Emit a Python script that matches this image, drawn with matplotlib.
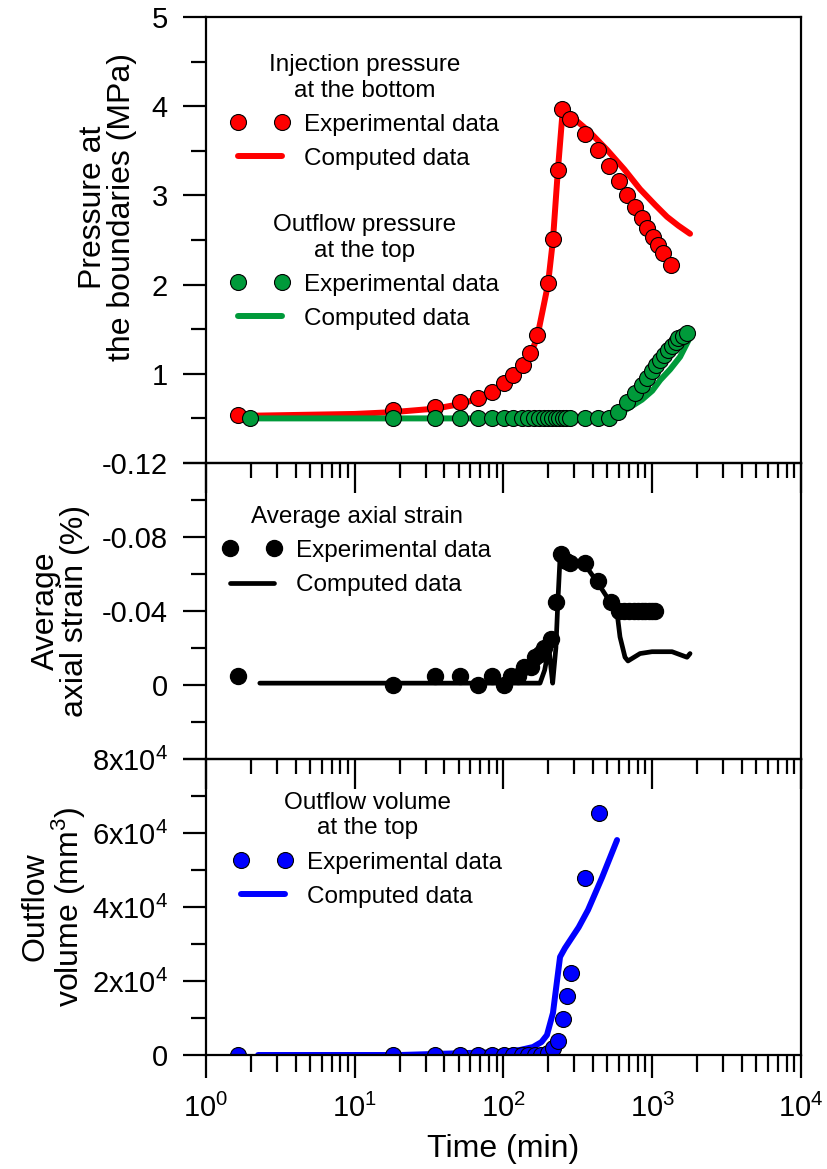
import matplotlib
matplotlib.use("Agg")
import matplotlib.pyplot as plt
import numpy as np
from matplotlib.ticker import LogLocator, FixedLocator, FuncFormatter, NullFormatter

plt.rcParams['font.family'] = ['Liberation Sans', 'DejaVu Sans']
plt.rcParams['mathtext.fontset'] = 'custom'
plt.rcParams['mathtext.rm'] = 'Liberation Sans'
plt.rcParams['mathtext.it'] = 'Liberation Sans:italic'
plt.rcParams['mathtext.default'] = 'regular'

# --- injection pressure at the bottom (MPa)
t_inj_exp = [1.64, 18.1, 34.6, 51, 67, 84, 101, 116, 135, 151, 168, 199, 215, 232, 247,
             280, 353, 432, 512, 598, 676, 765, 853, 922, 1012, 1093, 1181, 1337]
p_inj_exp = [0.54, 0.59, 0.63, 0.68, 0.73, 0.80, 0.90, 0.99, 1.10, 1.23, 1.43, 2.02, 2.51, 3.28, 3.97,
             3.86, 3.69, 3.51, 3.33, 3.16, 3.00, 2.87, 2.75, 2.63, 2.53, 2.44, 2.35, 2.22]
t_inj_cmp = [2.0, 10, 18, 35, 51, 67, 84, 101, 116, 135, 151, 168, 199, 215, 232, 250,
             289, 380, 497, 650, 828, 1050, 1257, 1500, 1795]
p_inj_cmp = [0.53, 0.55, 0.57, 0.61, 0.66, 0.72, 0.79, 0.88, 0.97, 1.08, 1.21, 1.40, 2.00, 2.50, 3.28, 3.95,
             3.88, 3.71, 3.51, 3.29, 3.07, 2.89, 2.76, 2.66, 2.57]

# --- outflow pressure at the top (MPa)
t_out_exp = [1.98, 18.1, 34.6, 51, 67, 84, 101, 116, 133, 146, 160, 173, 187, 199, 211, 225, 236, 251,
             263, 280, 353, 432, 512, 588, 676, 765, 853, 922, 996, 1062, 1131, 1206, 1284, 1368,
             1434, 1500, 1600, 1700]
p_out_exp = [0.50, 0.50, 0.50, 0.50, 0.50, 0.50, 0.50, 0.50, 0.50, 0.50, 0.50, 0.50, 0.50, 0.50, 0.50,
             0.50, 0.50, 0.50, 0.50, 0.50, 0.50, 0.50, 0.50, 0.57, 0.68, 0.78, 0.87, 0.95, 1.03, 1.10,
             1.15, 1.21, 1.27, 1.31, 1.36, 1.40, 1.42, 1.46]
t_out_cmp = [2.0, 20, 100, 300, 530, 600, 700, 853, 1000, 1131, 1320, 1538, 1795]
p_out_cmp = [0.50, 0.50, 0.50, 0.50, 0.51, 0.55, 0.62, 0.71, 0.81, 0.93, 1.05, 1.19, 1.41]

# --- average axial strain (%)
t_str_exp = [1.64, 18.1, 34.6, 51, 67, 84, 101, 113, 125, 138, 152, 163, 175, 188, 207, 227, 245,
             265, 280, 353, 432, 530, 600, 650, 700, 750, 800, 850, 900, 950, 1000, 1050]
e_str_exp = [-0.005, 0.0, -0.005, -0.005, 0.0, -0.005, 0.0, -0.005, -0.005, -0.010, -0.010, -0.015,
             -0.017, -0.020, -0.025, -0.045, -0.071, -0.067, -0.066, -0.066, -0.056, -0.045,
             -0.040, -0.040, -0.040, -0.040, -0.040, -0.040, -0.040, -0.040, -0.040, -0.040]
t_str_cmp = [2.3, 20, 100, 176, 189, 202, 208, 214, 225, 232, 240, 267, 353, 432, 520, 580, 607,
             656, 687, 828, 996, 1358, 1713, 1795]
e_str_cmp = [-0.001, -0.001, -0.001, -0.001, -0.008, -0.020, -0.010, -0.001, -0.020, -0.045, -0.069,
             -0.068, -0.065, -0.055, -0.045, -0.039, -0.026, -0.015, -0.013, -0.017, -0.018, -0.018,
             -0.015, -0.017]

# --- outflow volume at the top (mm3)
t_vol_exp = [1.64, 18.1, 34.6, 51, 67, 84, 101, 116, 133, 146, 163, 180, 199, 215, 232, 251, 267, 284,
             353, 439]
v_vol_exp = [0, 0, 0, 0, 0, 0, 0, 0, 0, 0, 0, 100, 500, 1900, 3800, 9700, 15900, 22200, 47800, 65400]
t_vol_cmp = [2.24, 20, 95, 129, 158, 180, 196, 215, 240, 259, 320, 370, 460, 580]
v_vol_cmp = [0, 0, 800, 1350, 2160, 3500, 5400, 11350, 26500, 28900, 34500, 39200, 48000, 58100]

RED = '#ff0000'
GREEN = '#009a3a'
BLUE = '#0000ff'

fig = plt.figure(figsize=(8.28, 11.69), dpi=100)
L, W = 206 / 828, 595 / 828
ax1 = fig.add_axes([L, 1 - 463 / 1169, W, 446 / 1169])
ax2 = fig.add_axes([L, 1 - 759 / 1169, W, 296 / 1169])
ax3 = fig.add_axes([L, 1 - 1055 / 1169, W, 296 / 1169])


def style(ax, xmaj, xmin):
    ax.patch.set_visible(False)
    ax.set_xscale('log')
    ax.set_xlim(1, 1e4)
    for s in ax.spines.values():
        s.set_linewidth(1.6)
    ax.xaxis.set_major_locator(LogLocator(base=10, numticks=10))
    ax.xaxis.set_minor_locator(LogLocator(base=10, subs=np.arange(2, 10), numticks=10))
    ax.xaxis.set_minor_formatter(NullFormatter())
    ax.tick_params(axis='both', which='both', direction='out', width=1.6,
                   labelsize=21, top=False, right=False)
    ax.tick_params(axis='y', which='major', length=16.5, pad=11)
    ax.tick_params(axis='y', which='minor', length=11)
    ax.tick_params(axis='x', which='major', length=xmaj, pad=11)
    ax.tick_params(axis='x', which='minor', length=xmin)


for a in (ax1, ax2):
    style(a, 21.6, 10.8)
    a.tick_params(axis='x', labelbottom=False)
style(ax3, 16.6, 12.2)

lw = 4.3
ms = 11.5
mkw = dict(marker='o', ls='none', ms=ms, mec='black', mew=0.8)
leg_kw = dict(loc='center', frameon=False, numpoints=2, handlelength=2.4, handletextpad=0.6,
              fontsize=17.5, title_fontsize=17.5, labelspacing=0.5, borderpad=0, borderaxespad=0)


def fix_title(leg):
    t = leg.get_title()
    t.set_multialignment('center')
    t.set_linespacing(1.2)


# top panel: pressures
l1, = ax1.plot(t_inj_cmp, p_inj_cmp, color=RED, lw=lw, solid_capstyle='round')
m1, = ax1.plot(t_inj_exp, p_inj_exp, mfc=RED, **mkw)
l2, = ax1.plot(t_out_cmp, p_out_cmp, color=GREEN, lw=lw, solid_capstyle='round')
m2, = ax1.plot(t_out_exp, p_out_exp, mfc=GREEN, **mkw)
ax1.set_ylim(0, 5)
ax1.yaxis.set_major_locator(FixedLocator([0, 1, 2, 3, 4, 5]))
ax1.yaxis.set_minor_locator(FixedLocator([0.5, 1.5, 2.5, 3.5, 4.5]))
ax1.yaxis.set_major_formatter(FuncFormatter(lambda v, p: '' if v == 0 else '%g' % v))
leg1 = ax1.legend([m1, l1], ['Experimental data', 'Computed data'],
                  title='Injection pressure\nat the bottom', bbox_to_anchor=(0.267, 0.787), **leg_kw)
fix_title(leg1)
ax1.add_artist(leg1)
leg2 = ax1.legend([m2, l2], ['Experimental data', 'Computed data'],
                  title='Outflow pressure\nat the top', bbox_to_anchor=(0.267, 0.428), **leg_kw)
fix_title(leg2)
ax1.text(-0.166, 0.574, 'Pressure at\nthe boundaries (MPa)', transform=ax1.transAxes,
         rotation=90, ha='center', va='center', fontsize=23, linespacing=0.95)

# middle panel: axial strain
l3, = ax2.plot(t_str_cmp, e_str_cmp, color='black', lw=3.4, solid_capstyle='round')
m3, = ax2.plot(t_str_exp, e_str_exp, marker='o', ls='none', ms=ms, mfc='black', mec='black')
ax2.set_ylim(0.04, -0.12)
ax2.yaxis.set_major_locator(FixedLocator([-0.12, -0.08, -0.04, 0, 0.04]))
ax2.yaxis.set_minor_locator(FixedLocator([-0.10, -0.06, -0.02, 0.02]))
ax2.yaxis.set_major_formatter(FuncFormatter(
    lambda v, p: '' if v > 0.01 else ('0' if abs(v) < 1e-9 else '%.2f' % v)))
leg3 = ax2.legend([m3, l3], ['Experimental data', 'Computed data'],
                  title='Average axial strain', bbox_to_anchor=(0.254, 0.703), **leg_kw)
fix_title(leg3)
ax2.text(-0.245, 0.5, 'Average\naxial strain (%)', transform=ax2.transAxes,
         rotation=90, ha='center', va='center', fontsize=23, linespacing=0.95)

# bottom panel: outflow volume
l4, = ax3.plot(t_vol_cmp, v_vol_cmp, color=BLUE, lw=lw, solid_capstyle='round')
m4, = ax3.plot(t_vol_exp, v_vol_exp, mfc=BLUE, **mkw)
ax3.set_ylim(0, 8e4)
ax3.yaxis.set_major_locator(FixedLocator([0, 2e4, 4e4, 6e4, 8e4]))
ax3.yaxis.set_minor_locator(FixedLocator([1e4, 3e4, 5e4, 7e4]))
ax3.yaxis.set_major_formatter(FuncFormatter(
    lambda v, p: '0' if v == 0 else '%dx10$^{4}$' % round(v / 1e4)))
leg4 = ax3.legend([m4, l4], ['Experimental data', 'Computed data'],
                  title='Outflow volume\nat the top', bbox_to_anchor=(0.272, 0.693), **leg_kw)
fix_title(leg4)
ax3.text(-0.255, 0.5, 'Outflow\nvolume (mm$^3$)', transform=ax3.transAxes,
         rotation=90, ha='center', va='center', fontsize=23, linespacing=0.95)
ax3.set_xlabel('Time (min)', fontsize=23, labelpad=8)

fig.savefig('out.png', dpi=100)
